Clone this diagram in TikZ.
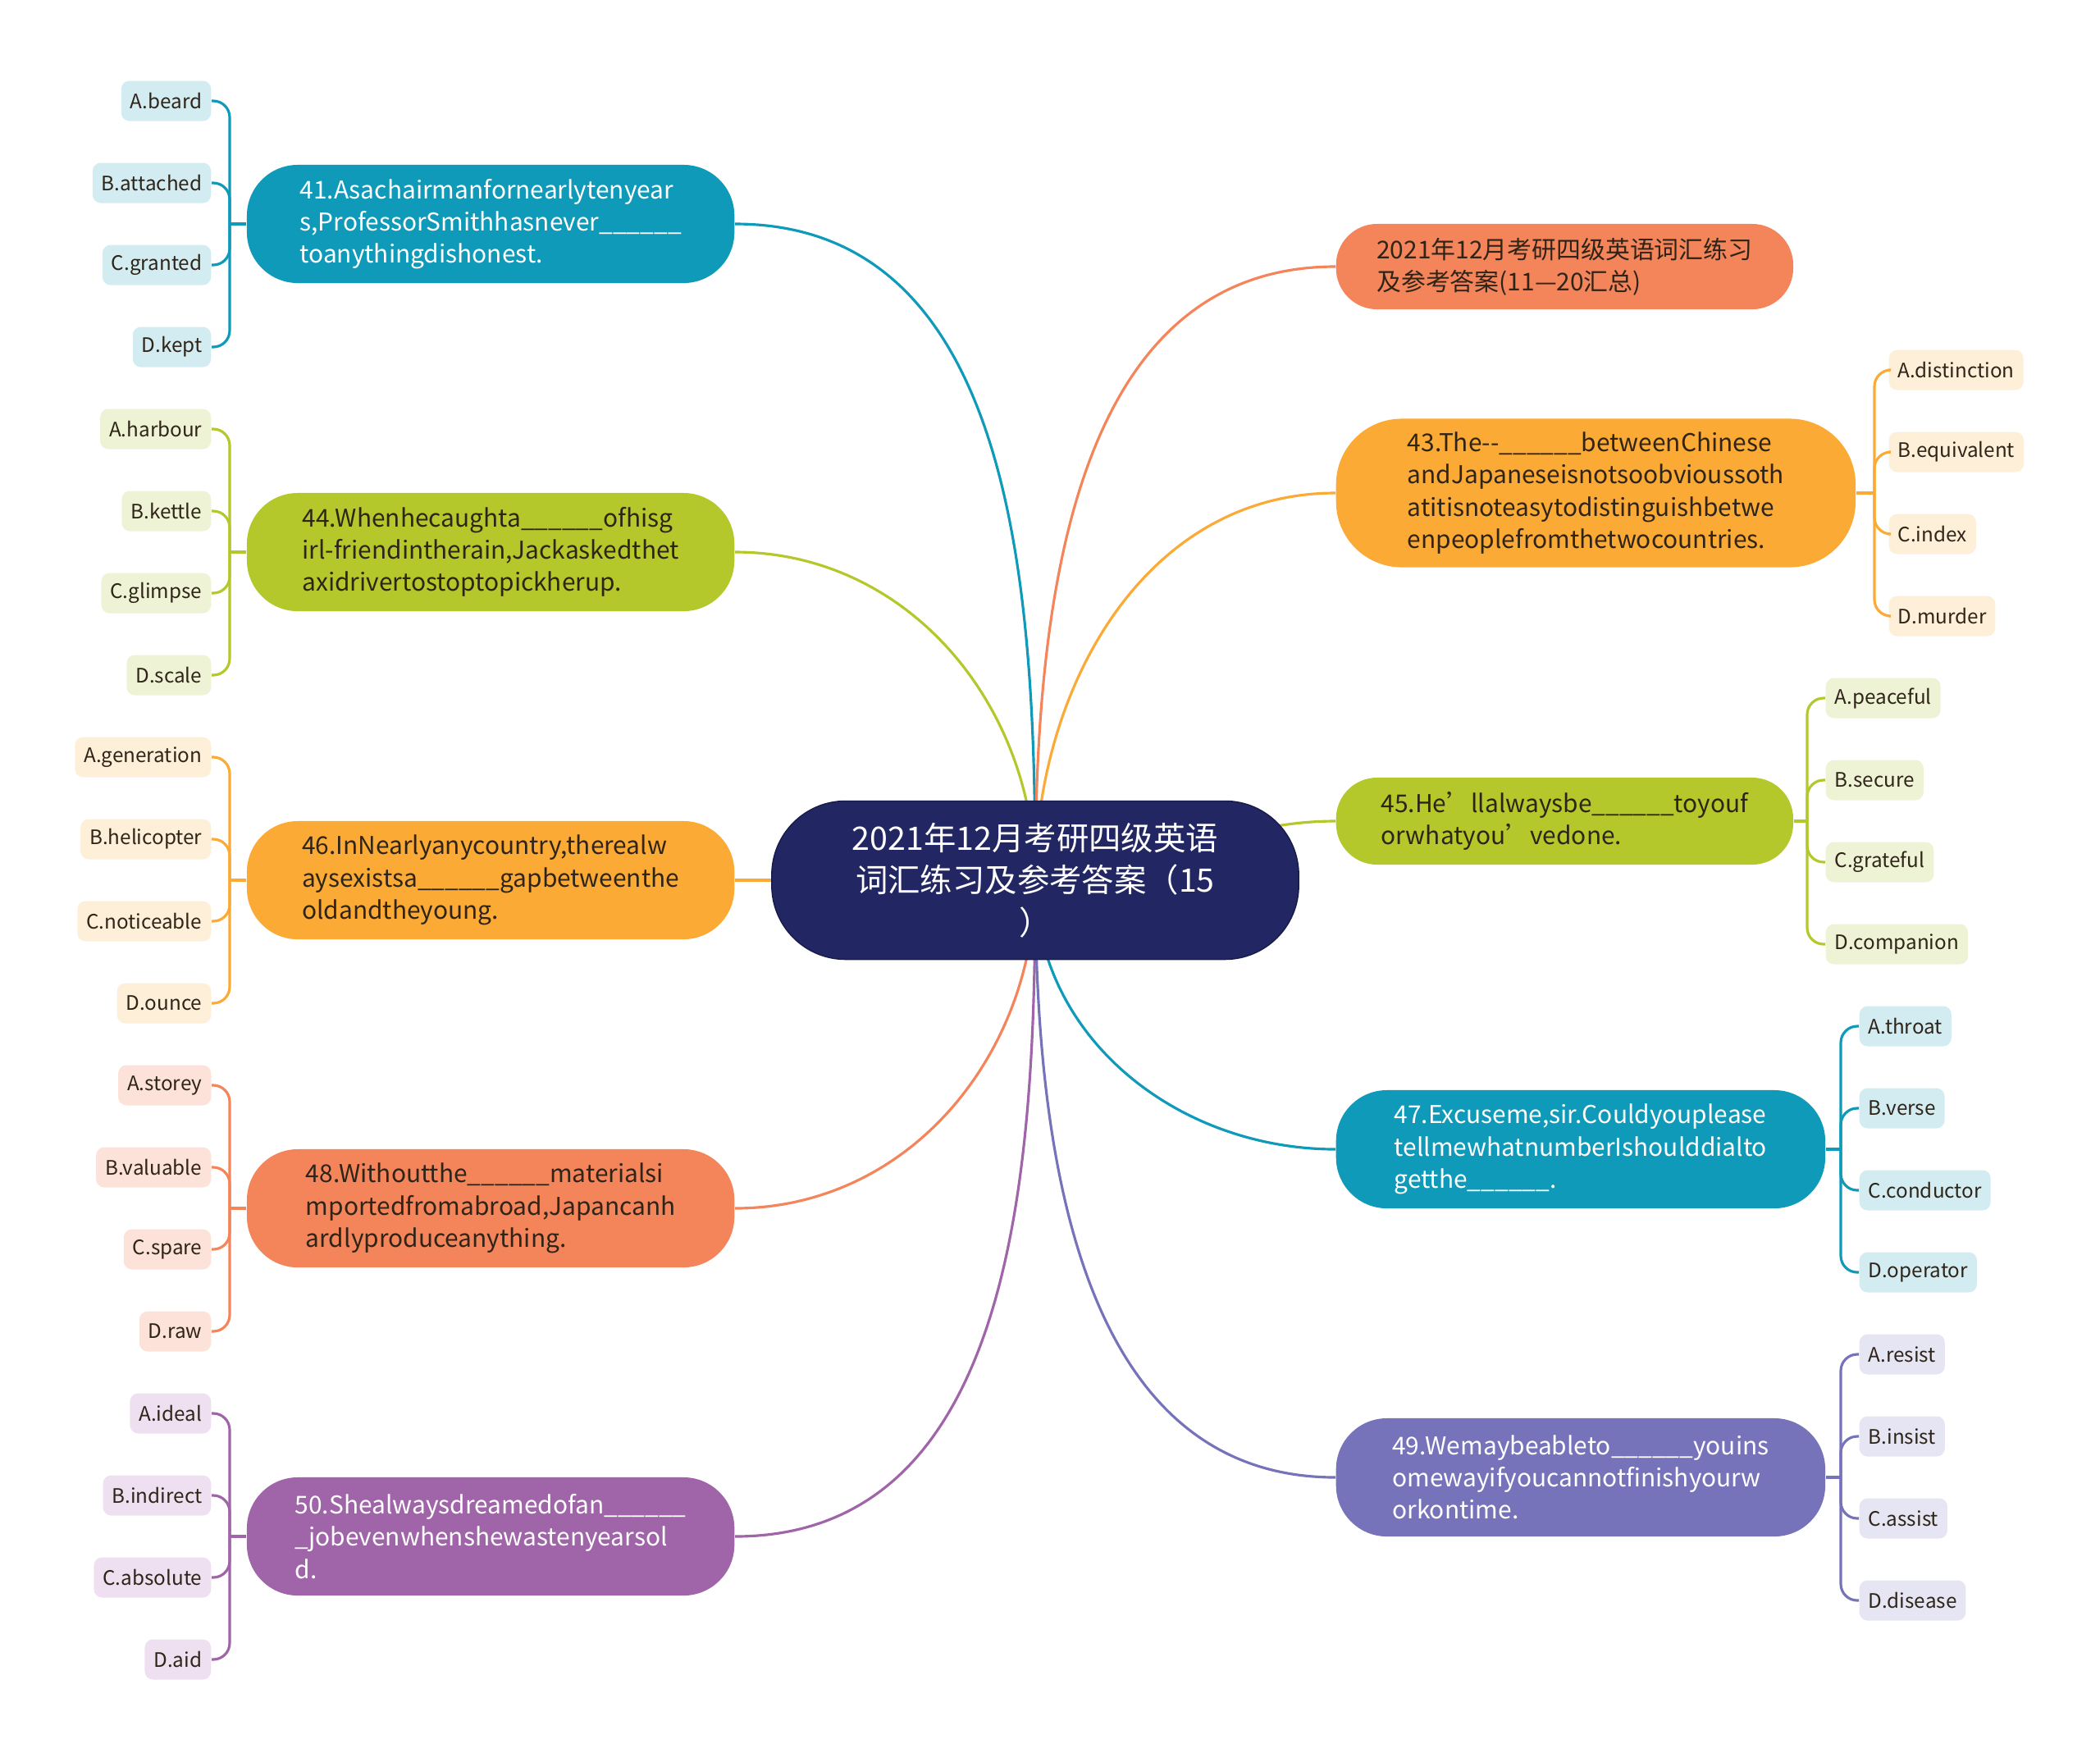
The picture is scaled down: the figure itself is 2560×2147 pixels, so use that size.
\documentclass[tikz,border=0pt]{standalone}
\usepackage{fontspec}
\setmainfont{Noto Sans CJK SC}
\usepackage{xcolor}
\usetikzlibrary{backgrounds}
\definecolor{rootblue}{HTML}{222763}
\definecolor{rootline}{HTML}{171B4A}
\definecolor{tealc}{HTML}{0E9AB8}
\definecolor{tealleaf}{HTML}{D3ECF2}
\definecolor{coral}{HTML}{F4845A}
\definecolor{coralleaf}{HTML}{FCE2D8}
\definecolor{amber}{HTML}{FBAA35}
\definecolor{amberleaf}{HTML}{FDEFD8}
\definecolor{lime}{HTML}{B4C82B}
\definecolor{limeleaf}{HTML}{EFF3D5}
\definecolor{violet}{HTML}{7773BB}
\definecolor{violetleaf}{HTML}{E6E5F3}
\definecolor{plum}{HTML}{A064A8}
\definecolor{plumleaf}{HTML}{EEE0F0}
\definecolor{darktext}{HTML}{2E2418}

\begin{document}
\begin{tikzpicture}[x=0.01cm, y=0.01cm,
    rootbox/.style={rectangle, rounded corners=0.9cm, fill=rootblue, draw=rootline, thin,
      text=white, align=center, minimum width=6.42cm, minimum height=1.93cm,
      inner sep=0pt, font=\fontsize{11.2}{14.6}\selectfont},
    topic/.style={rectangle, rounded corners=0.62cm, align=left, inner sep=0pt,
      minimum height=1.44cm, font=\fontsize{8.5}{11.15}\selectfont},
    lefttopic/.style={topic, minimum width=5.94cm, anchor=east},
    righttopic/.style={topic, anchor=west},
    leaf/.style={rectangle, rounded corners=0.1cm, minimum height=0.49cm,
      inner xsep=0.11cm, inner ysep=0pt, text=darktext,
      font=\fontsize{6.9}{8.4}\selectfont},
    lleaf/.style={leaf, anchor=east},
    rleaf/.style={leaf, anchor=west},
    link/.style={line width=0.9pt},
    twig/.style={line width=0.9pt, rounded corners=0.2cm},
  ]
  \useasboundingbox (0,0) rectangle (2560,-2147);

  % centre
  \node[rootbox] (root) at (1262,-1073) {2021年12月考研四级英语\\词汇练习及参考答案（15\\）};

  % left topics
  \node[lefttopic, fill=tealc, text=white] (q41) at (896,-273) {41.Asachairmanfornearlytenyear\\s,ProfessorSmithhasnever\_\_\_\_\_\_\\toanythingdishonest.};
  \node[lefttopic, fill=lime, text=darktext] (q44) at (896,-673) {44.Whenhecaughta\_\_\_\_\_\_ofhisg\\irl-friendintherain,Jackaskedthet\\axidrivertostoptopickherup.};
  \node[lefttopic, fill=amber, text=darktext] (q46) at (896,-1073) {46.InNearlyanycountry,therealw\\aysexistsa\_\_\_\_\_\_gapbetweenthe\\oldandtheyoung.};
  \node[lefttopic, fill=coral, text=darktext] (q48) at (896,-1473) {48.Withoutthe\_\_\_\_\_\_materialsi\\mportedfromabroad,Japancanh\\ardlyproduceanything.};
  \node[lefttopic, fill=plum, text=white] (q50) at (896,-1873) {50.Shealwaysdreamedofan\_\_\_\_\_\_\\\_jobevenwhenshewastenyearsol\\d.};

  % right topics
  \node[righttopic, fill=coral, text=darktext, minimum width=5.57cm, minimum height=1.04cm, rounded corners=0.5cm] (sum) at (1628,-325) {2021年12月考研四级英语词汇练习\\及参考答案(11—20汇总)};
  \node[righttopic, fill=amber, text=darktext, minimum width=6.33cm, minimum height=1.81cm, rounded corners=0.8cm] (q43) at (1628,-601) {43.The-{}-\_\_\_\_\_\_betweenChinese\\andJapaneseisnotsoobvioussoth\\atitisnoteasytodistinguishbetwe\\enpeoplefromthetwocountries.};
  \node[righttopic, fill=lime, text=darktext, minimum width=5.57cm, minimum height=1.06cm, rounded corners=0.5cm] (q45) at (1628,-1001) {45.He’llalwaysbe\_\_\_\_\_\_toyouf\\orwhatyou’vedone.};
  \node[righttopic, fill=tealc, text=white, minimum width=5.96cm] (q47) at (1628,-1401) {47.Excuseme,sir.Couldyouplease\\tellmewhatnumberIshoulddialto\\getthe\_\_\_\_\_\_.};
  \node[righttopic, fill=violet, text=white, minimum width=5.96cm] (q49) at (1628,-1801) {49.Wemaybeableto\_\_\_\_\_\_youins\\omewayifyoucannotfinishyourw\\orkontime.};

  % left leaves
  \node[lleaf, fill=tealleaf] (q41a) at (258,-123) {A.beard};
  \node[lleaf, fill=tealleaf] (q41b) at (258,-223) {B.attached};
  \node[lleaf, fill=tealleaf] (q41c) at (258,-323) {C.granted};
  \node[lleaf, fill=tealleaf] (q41d) at (258,-423) {D.kept};
  \node[lleaf, fill=limeleaf] (q44a) at (258,-523) {A.harbour};
  \node[lleaf, fill=limeleaf] (q44b) at (258,-623) {B.kettle};
  \node[lleaf, fill=limeleaf] (q44c) at (258,-723) {C.glimpse};
  \node[lleaf, fill=limeleaf] (q44d) at (258,-823) {D.scale};
  \node[lleaf, fill=amberleaf] (q46a) at (258,-923) {A.generation};
  \node[lleaf, fill=amberleaf] (q46b) at (258,-1023) {B.helicopter};
  \node[lleaf, fill=amberleaf] (q46c) at (258,-1123) {C.noticeable};
  \node[lleaf, fill=amberleaf] (q46d) at (258,-1223) {D.ounce};
  \node[lleaf, fill=coralleaf] (q48a) at (258,-1323) {A.storey};
  \node[lleaf, fill=coralleaf] (q48b) at (258,-1423) {B.valuable};
  \node[lleaf, fill=coralleaf] (q48c) at (258,-1523) {C.spare};
  \node[lleaf, fill=coralleaf] (q48d) at (258,-1623) {D.raw};
  \node[lleaf, fill=plumleaf] (q50a) at (258,-1723) {A.ideal};
  \node[lleaf, fill=plumleaf] (q50b) at (258,-1823) {B.indirect};
  \node[lleaf, fill=plumleaf] (q50c) at (258,-1923) {C.absolute};
  \node[lleaf, fill=plumleaf] (q50d) at (258,-2023) {D.aid};

  % right leaves
  \node[rleaf, fill=amberleaf] (q43a) at (2302,-451) {A.distinction};
  \node[rleaf, fill=amberleaf] (q43b) at (2302,-551) {B.equivalent};
  \node[rleaf, fill=amberleaf] (q43c) at (2302,-651) {C.index};
  \node[rleaf, fill=amberleaf] (q43d) at (2302,-751) {D.murder};
  \node[rleaf, fill=limeleaf] (q45a) at (2225,-851) {A.peaceful};
  \node[rleaf, fill=limeleaf] (q45b) at (2225,-951) {B.secure};
  \node[rleaf, fill=limeleaf] (q45c) at (2225,-1051) {C.grateful};
  \node[rleaf, fill=limeleaf] (q45d) at (2225,-1151) {D.companion};
  \node[rleaf, fill=tealleaf] (q47a) at (2266,-1251) {A.throat};
  \node[rleaf, fill=tealleaf] (q47b) at (2266,-1351) {B.verse};
  \node[rleaf, fill=tealleaf] (q47c) at (2266,-1451) {C.conductor};
  \node[rleaf, fill=tealleaf] (q47d) at (2266,-1551) {D.operator};
  \node[rleaf, fill=violetleaf] (q49a) at (2266,-1651) {A.resist};
  \node[rleaf, fill=violetleaf] (q49b) at (2266,-1751) {B.insist};
  \node[rleaf, fill=violetleaf] (q49c) at (2266,-1851) {C.assist};
  \node[rleaf, fill=violetleaf] (q49d) at (2266,-1951) {D.disease};

  % junctions of the brackets
  \coordinate (j41) at (280,-273);
  \coordinate (j44) at (280,-673);
  \coordinate (j46) at (280,-1073);
  \coordinate (j48) at (280,-1473);
  \coordinate (j50) at (280,-1873);
  \coordinate (j43) at (2285,-601);
  \coordinate (j45) at (2203,-1001);
  \coordinate (j47) at (2244,-1401);
  \coordinate (j49) at (2244,-1801);

  \begin{scope}[on background layer]
    % branches from the centre
    \draw[link, tealc] (root.center) to[out=90, in=0] (q41.east);
    \draw[link, lime] (root.center) to[out=90, in=0] (q44.east);
    \draw[link, amber] (root.center) -- (q46.east);
    \draw[link, coral] (root.center) to[out=-90, in=0] (q48.east);
    \draw[link, plum] (root.center) to[out=-90, in=0] (q50.east);
    \draw[link, coral] (root.center) to[out=90, in=180] (sum.west);
    \draw[link, amber] (root.center) to[out=90, in=180] (q43.west);
    \draw[link, lime] (root.center) to[out=0, in=180] (q45.west);
    \draw[link, tealc] (root.center) to[out=-90, in=180] (q47.west);
    \draw[link, violet] (root.center) to[out=-90, in=180] (q49.west);
  \end{scope}

  % brackets to the options
  \draw[twig, tealc] (j41) -- (q41.west);
  \foreach \k in {a,b,c,d} \draw[twig, tealc] (q41\k.east) -| (j41);
  \draw[twig, lime] (j44) -- (q44.west);
  \foreach \k in {a,b,c,d} \draw[twig, lime] (q44\k.east) -| (j44);
  \draw[twig, amber] (j46) -- (q46.west);
  \foreach \k in {a,b,c,d} \draw[twig, amber] (q46\k.east) -| (j46);
  \draw[twig, coral] (j48) -- (q48.west);
  \foreach \k in {a,b,c,d} \draw[twig, coral] (q48\k.east) -| (j48);
  \draw[twig, plum] (j50) -- (q50.west);
  \foreach \k in {a,b,c,d} \draw[twig, plum] (q50\k.east) -| (j50);
  \draw[twig, amber] (q43.east) -- (j43);
  \foreach \k in {a,b,c,d} \draw[twig, amber] (q43\k.west) -| (j43);
  \draw[twig, lime] (q45.east) -- (j45);
  \foreach \k in {a,b,c,d} \draw[twig, lime] (q45\k.west) -| (j45);
  \draw[twig, tealc] (q47.east) -- (j47);
  \foreach \k in {a,b,c,d} \draw[twig, tealc] (q47\k.west) -| (j47);
  \draw[twig, violet] (q49.east) -- (j49);
  \foreach \k in {a,b,c,d} \draw[twig, violet] (q49\k.west) -| (j49);
\end{tikzpicture}
\end{document}
